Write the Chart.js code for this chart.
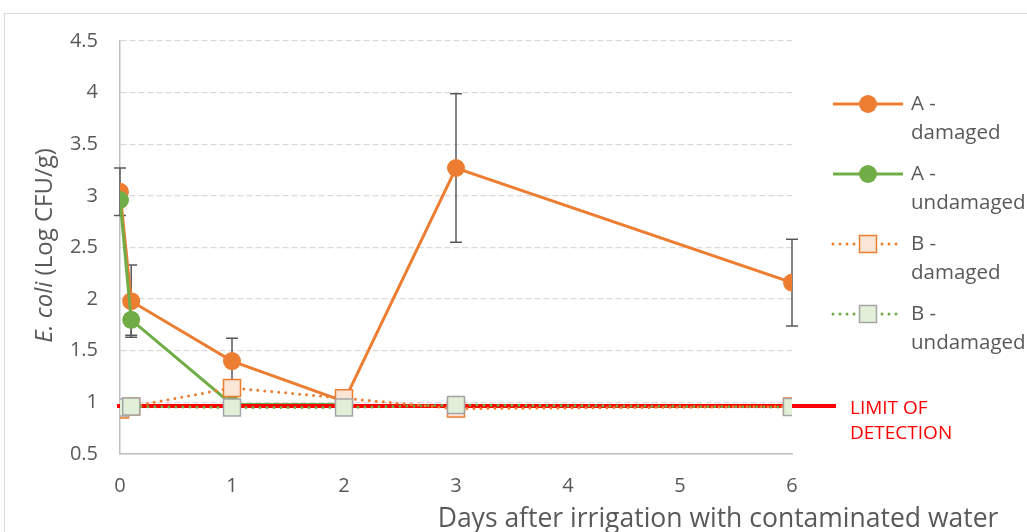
<!DOCTYPE html>
<html>
<head>
<meta charset="utf-8">
<script src="https://cdn.jsdelivr.net/npm/chart.js@4/dist/chart.umd.min.js"></script>
<style>
  html, body { margin: 0; padding: 0; background: #fff; }
</style>
</head>
<body>
<canvas id="chart" width="1027" height="532"></canvas>
<script>
// sampling days (0.1 = a few hours after irrigation)
const days = [0, 0.1, 1, 2, 3, 6];

const aDamaged      = [3.04, 1.98, 1.40, 1.01, 3.27, 2.16];
const aDamagedErr   = [0.23, 0.35, 0.22, 0,    0.72, 0.42];
const aUndamaged    = [2.96, 1.80, 0.98, 0.98, null, null];
const aUndamagedErr = [0,    0.15, 0,    0,    0,    0];
const bDamaged      = [0.93, 0.96, 1.14, 1.04, 0.94, 0.96];
const bUndamaged    = [0.95, 0.96, 0.95, 0.95, 0.975, 0.955];

const limitOfDetection = 0.965;

const FONT = "'Open Sans'";
const TEXT = '#595959';
const ORANGE = '#ED7D31';
const GREEN = '#70AD47';

function pts(values) {
    return days.map((d, i) => ({x: d, y: values[i]}));
}

const frame = {
    id: 'frame',
    beforeDraw(chart) {
        const ctx = chart.ctx;
        ctx.save();
        ctx.fillStyle = '#fff';
        ctx.fillRect(0, 0, chart.width, chart.height);
        ctx.strokeStyle = '#D9D9D9';
        ctx.lineWidth = 1;
        ctx.strokeRect(4.5, 13.5, chart.width + 20, chart.height + 20);
        ctx.restore();
    }
};

const errorBars = {
    id: 'errorBars',
    beforeDatasetsDraw(chart) {
        const {ctx, scales: {x, y}} = chart;
        ctx.save();
        ctx.strokeStyle = '#595959';
        ctx.lineWidth = 1.5;
        chart.data.datasets.forEach(ds => {
            if (!ds.errors) return;
            ds.data.forEach((p, i) => {
                const e = ds.errors[i];
                if (!e || p.y == null) return;
                const px = x.getPixelForValue(p.x);
                const top = y.getPixelForValue(p.y + e);
                const bot = y.getPixelForValue(p.y - e);
                ctx.beginPath();
                ctx.moveTo(px, top); ctx.lineTo(px, bot);
                ctx.moveTo(px - 6, top); ctx.lineTo(px + 6, top);
                ctx.moveTo(px - 6, bot); ctx.lineTo(px + 6, bot);
                ctx.stroke();
            });
        });
        ctx.restore();
    }
};

// red detection limit, drawn between the A and B series
const limitLine = {
    id: 'limitLine',
    afterDatasetDraw(chart, args) {
        if (chart.data.datasets[args.index].label !== 'A - undamaged') return;
        const {ctx, chartArea, scales: {x, y}} = chart;
        const py = y.getPixelForValue(limitOfDetection);
        const xEnd = x.getPixelForValue(6) + 44;
        ctx.save();
        ctx.strokeStyle = '#FF0000';
        ctx.lineWidth = 4;
        ctx.beginPath();
        ctx.moveTo(chartArea.left - 3, py);
        ctx.lineTo(xEnd, py);
        ctx.stroke();
        ctx.fillStyle = '#FF0000';
        ctx.font = '19px ' + FONT;
        ctx.textBaseline = 'middle';
        ctx.fillText('LIMIT OF', xEnd + 14, py + 3);
        ctx.fillText('DETECTION', xEnd + 14, py + 28);
        ctx.restore();
    }
};

const sideLegend = {
    id: 'sideLegend',
    afterDraw(chart) {
        const {ctx, chartArea} = chart;
        const x0 = chartArea.right + 41;
        const x1 = chartArea.right + 111;
        const xm = (x0 + x1) / 2;
        ctx.save();
        chart.data.datasets.forEach((ds, i) => {
            const yy = 104 + i * 70;
            ctx.strokeStyle = ds.borderColor;
            ctx.lineWidth = ds.borderWidth;
            ctx.lineCap = ds.borderDash ? 'round' : 'butt';
            ctx.setLineDash(ds.borderDash || []);
            ctx.beginPath();
            ctx.moveTo(x0, yy); ctx.lineTo(x1, yy);
            ctx.stroke();
            ctx.setLineDash([]);
            ctx.fillStyle = ds.pointBackgroundColor;
            ctx.strokeStyle = ds.pointBorderColor;
            ctx.lineWidth = ds.pointBorderWidth;
            if (ds.pointStyle === 'rect') {
                const s = ds.pointRadius * Math.SQRT1_2;
                ctx.fillRect(xm - s, yy - s, 2 * s, 2 * s);
                ctx.strokeRect(xm - s, yy - s, 2 * s, 2 * s);
            } else {
                ctx.beginPath();
                ctx.arc(xm, yy, ds.pointRadius, 0, Math.PI * 2);
                ctx.fill();
            }
            const parts = ds.label.split(' - ');
            ctx.fillStyle = TEXT;
            ctx.font = '20.5px ' + FONT;
            ctx.textBaseline = 'middle';
            ctx.fillText(parts[0] + ' -', chartArea.right + 119, yy);
            ctx.fillText(parts[1], chartArea.right + 119, yy + 29);
        });
        ctx.restore();
    }
};

const axisTitles = {
    id: 'axisTitles',
    afterDraw(chart) {
        const {ctx, chartArea} = chart;
        ctx.save();
        ctx.fillStyle = TEXT;
        ctx.textBaseline = 'middle';
        // x title
        ctx.font = '26.5px ' + FONT;
        ctx.textAlign = 'center';
        ctx.fillText('Days after irrigation with contaminated water', 718, 519);
        // y title, italic species name
        ctx.translate(45, (chartArea.top + chartArea.bottom) / 2 - 2);
        ctx.rotate(-Math.PI / 2);
        ctx.textAlign = 'left';
        const italic = 'italic 24px ' + FONT;
        const normal = '24px ' + FONT;
        ctx.font = italic;
        const w1 = ctx.measureText('E. coli').width;
        ctx.font = normal;
        const w2 = ctx.measureText(' (Log CFU/g)').width;
        const start = -(w1 + w2) / 2;
        ctx.font = italic;
        ctx.fillText('E. coli', start, 0);
        ctx.font = normal;
        ctx.fillText(' (Log CFU/g)', start + w1, 0);
        ctx.restore();
    }
};

new Chart(document.getElementById('chart'), {
    type: 'line',
    data: {
        datasets: [
            {
                label: 'A - damaged',
                data: pts(aDamaged),
                errors: aDamagedErr,
                borderColor: ORANGE,
                borderWidth: 3,
                pointRadius: 9,
                pointBackgroundColor: ORANGE,
                pointBorderColor: ORANGE,
                pointBorderWidth: 0,
                order: 4
            },
            {
                label: 'A - undamaged',
                data: pts(aUndamaged),
                errors: aUndamagedErr,
                borderColor: GREEN,
                borderWidth: 3,
                pointRadius: 9,
                pointBackgroundColor: GREEN,
                pointBorderColor: GREEN,
                pointBorderWidth: 0,
                order: 3
            },
            {
                label: 'B - damaged',
                data: pts(bDamaged),
                borderColor: ORANGE,
                borderWidth: 3,
                borderDash: [0, 7],
                borderCapStyle: 'round',
                pointStyle: 'rect',
                pointRadius: 12,
                pointBackgroundColor: '#FBE5D6',
                pointBorderColor: ORANGE,
                pointBorderWidth: 1.5,
                order: 1
            },
            {
                label: 'B - undamaged',
                data: pts(bUndamaged),
                borderColor: GREEN,
                borderWidth: 3,
                borderDash: [0, 7],
                borderCapStyle: 'round',
                pointStyle: 'rect',
                pointRadius: 12,
                pointBackgroundColor: '#E2F0D9',
                pointBorderColor: '#A5A5A5',
                pointBorderWidth: 1.5,
                order: 0
            }
        ]
    },
    options: {
        responsive: false,
        animation: false,
        layout: {
            padding: {top: 41, right: 235, bottom: 0, left: 0}
        },
        plugins: {
            legend: {display: false},
            tooltip: {enabled: false}
        },
        scales: {
            x: {
                type: 'linear',
                min: 0,
                max: 6,
                ticks: {
                    stepSize: 1,
                    color: TEXT,
                    padding: 20,
                    font: {family: FONT, size: 20}
                },
                grid: {display: false, drawTicks: false},
                border: {display: true, color: '#BFBFBF', width: 1.5},
                afterFit(scale) { scale.height = 78; }
            },
            y: {
                min: 0.5,
                max: 4.5,
                ticks: {
                    stepSize: 0.5,
                    color: TEXT,
                    padding: 22,
                    font: {family: FONT, size: 20},
                    callback: v => String(v)
                },
                grid: {color: '#D9D9D9', lineWidth: 1.3, drawTicks: false},
                border: {display: true, color: '#BFBFBF', width: 1.5, dash: [6, 3]},
                afterFit(scale) { scale.width = 120; }
            }
        }
    },
    plugins: [frame, errorBars, limitLine, sideLegend, axisTitles]
});
</script>
</body>
</html>
